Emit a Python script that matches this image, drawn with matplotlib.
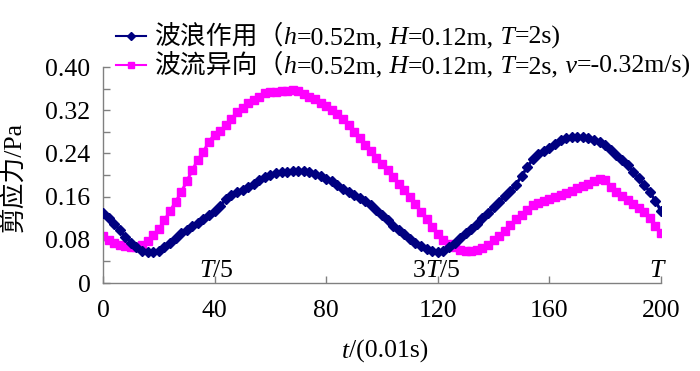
import numpy as np
import matplotlib
matplotlib.use("Agg")
import matplotlib.pyplot as plt
from matplotlib.lines import Line2D

# ---------------- data ----------------
t = list(range(0, 201, 2))
wave_only = [0.130, 0.121, 0.110, 0.098, 0.086, 0.075, 0.066, 0.060, 0.057, 0.057,
             0.060, 0.066, 0.074, 0.084, 0.092, 0.099, 0.106, 0.112, 0.118, 0.126,
             0.133, 0.143, 0.155, 0.163, 0.169, 0.172, 0.177, 0.183, 0.190, 0.197,
             0.200, 0.203, 0.206, 0.206, 0.208, 0.207, 0.207, 0.205, 0.202, 0.198,
             0.193, 0.188, 0.182, 0.175, 0.168, 0.163, 0.157, 0.151, 0.144, 0.135,
             0.126, 0.116, 0.106, 0.098, 0.090, 0.082, 0.075, 0.068, 0.063, 0.060,
             0.058, 0.060, 0.066, 0.075, 0.084, 0.092, 0.100, 0.110, 0.120, 0.130,
             0.140, 0.150, 0.161, 0.171, 0.182, 0.198, 0.214, 0.229, 0.238, 0.245,
             0.250, 0.257, 0.264, 0.268, 0.270, 0.270, 0.270, 0.269, 0.265, 0.262,
             0.255, 0.246, 0.237, 0.228, 0.218, 0.206, 0.194, 0.182, 0.168, 0.152,
             0.133]
wave_current = [0.087, 0.080, 0.074, 0.070, 0.068, 0.067, 0.067, 0.071, 0.077, 0.088,
                0.100, 0.116, 0.133, 0.150, 0.168, 0.188, 0.209, 0.228, 0.243, 0.262,
                0.275, 0.282, 0.292, 0.304, 0.316, 0.324, 0.333, 0.339, 0.345, 0.352,
                0.354, 0.354, 0.356, 0.356, 0.358, 0.356, 0.350, 0.345, 0.341, 0.334,
                0.328, 0.321, 0.313, 0.303, 0.292, 0.280, 0.268, 0.256, 0.244, 0.232,
                0.221, 0.209, 0.196, 0.184, 0.172, 0.160, 0.146, 0.132, 0.118, 0.104,
                0.091, 0.080, 0.072, 0.066, 0.062, 0.060, 0.059, 0.061, 0.064, 0.070,
                0.079, 0.087, 0.097, 0.108, 0.118, 0.126, 0.136, 0.144, 0.148, 0.152,
                0.156, 0.159, 0.163, 0.166, 0.170, 0.176, 0.180, 0.184, 0.189, 0.192,
                0.190, 0.178, 0.168, 0.162, 0.153, 0.146, 0.139, 0.131, 0.120, 0.106,
                0.093]
xticks = [0, 40, 80, 120, 160, 200]
yticks = [0, 0.08, 0.16, 0.24, 0.32, 0.40]
ytick_labels = ["0", "0.08", "0.16", "0.24", "0.32", "0.40"]
phase_labels = [("T/5", 40.5), ("3T/5", 119.5), ("T", 198.5)]

# ---------------- style ----------------
W, H = 700, 371
FAM = ["Liberation Serif", "Noto Sans CJK SC"]
NAVY = "#000080"
MAG = "#FF00FF"
AXC = "#808080"
FS = 18.5

fig = plt.figure(figsize=(7.0, 3.71), dpi=100)
ax = fig.add_axes([103 / W, 1 - 283 / H, (661 - 103) / W, (283 - 67) / H])

ax.plot(t, wave_only, color=NAVY, lw=2.2, marker="D", ms=4.8, mec=NAVY, mfc=NAVY, zorder=3)
ax.plot(t, wave_current, color=MAG, lw=2.2, marker="s", ms=5.6, mec=MAG, mfc=MAG, zorder=2)

ax.set_xlim(0, 200)
ax.set_ylim(0, 0.40)
ax.set_xticks(xticks)
ax.set_xticklabels([str(v) for v in xticks], fontsize=FS, family=FAM)
ax.set_yticks(yticks)
ax.set_yticklabels(ytick_labels, fontsize=FS, family=FAM)
ax.set_yticks([0.04, 0.12, 0.20, 0.28, 0.36], minor=True)
for s in ["top", "right"]:
    ax.spines[s].set_visible(False)
for s in ["left", "bottom"]:
    ax.spines[s].set_color(AXC)
    ax.spines[s].set_linewidth(1.0)
ax.tick_params(axis="both", which="both", direction="in", color=AXC, length=5, width=1.0)
ax.tick_params(axis="y", pad=9)
ax.tick_params(axis="x", pad=12)
ax.patch.set_alpha(0)

fig.canvas.draw()
R = fig.canvas.get_renderer()


def runs_text(x_px, y_px, runs, size, ha="left"):
    """Draw a sequence of (text, italic) runs on one baseline at figure pixel position."""
    objs = []
    total = 0.0
    for s, it in runs:
        tx = fig.text(0, 0, s, fontsize=size, family=FAM,
                      fontstyle="italic" if it else "normal",
                      va="baseline", ha="left")
        w = tx.get_window_extent(R).width
        objs.append((tx, w))
        total += w
    x0 = x_px - (total / 2 if ha == "center" else total if ha == "right" else 0)
    for tx, w in objs:
        tx.set_position((x0 / W, 1 - y_px / H))
        x0 += w


# phase annotations
for lab, tx_ in phase_labels:
    px = ax.transData.transform((tx_, 0))[0]
    parts = lab.split("T")
    runs = []
    if parts[0]:
        runs.append((parts[0], False))
    runs.append(("T", True))
    if parts[1]:
        runs.append((parts[1], False))
    runs_text(px, 277, runs, FS, ha="center")

# x label
runs_text(385, 358, [("t", True), ("/(0.01s)", False)], FS, ha="center")

# y label
fig.text(13 / W, 1 - 177 / H, "剪应力/Pa", rotation=90, fontsize=FS, family=FAM,
         ha="center", va="center")

# legend (manual)
leg_rows = [
    (NAVY, "D", 4.2, 44, [("波浪作用（", False), ("h", True), ("=0.52m,", False), (" H", True),
                         ("=0.12m,", False), (" T", True), ("=2s)", False)]),
    (MAG, "s", 5.0, 73, [("波流异向（", False), ("h", True), ("=0.52m,", False), (" H", True),
                        ("=0.12m,", False), (" T", True), ("=2s,", False), (" v", True),
                        ("=-0.32m/s)", False)]),
]
for col, mk, ms, base, runs in leg_rows:
    yc = base - 8
    ln = Line2D([116 / W, 131 / W, 146 / W], [1 - yc / H] * 3, transform=fig.transFigure,
                color=col, lw=1.5, marker=mk, ms=ms, markevery=[1], mec=col, mfc=col)
    fig.add_artist(ln)
    runs_text(154, base, runs, 18.6)

fig.savefig("out.png", dpi=100)
